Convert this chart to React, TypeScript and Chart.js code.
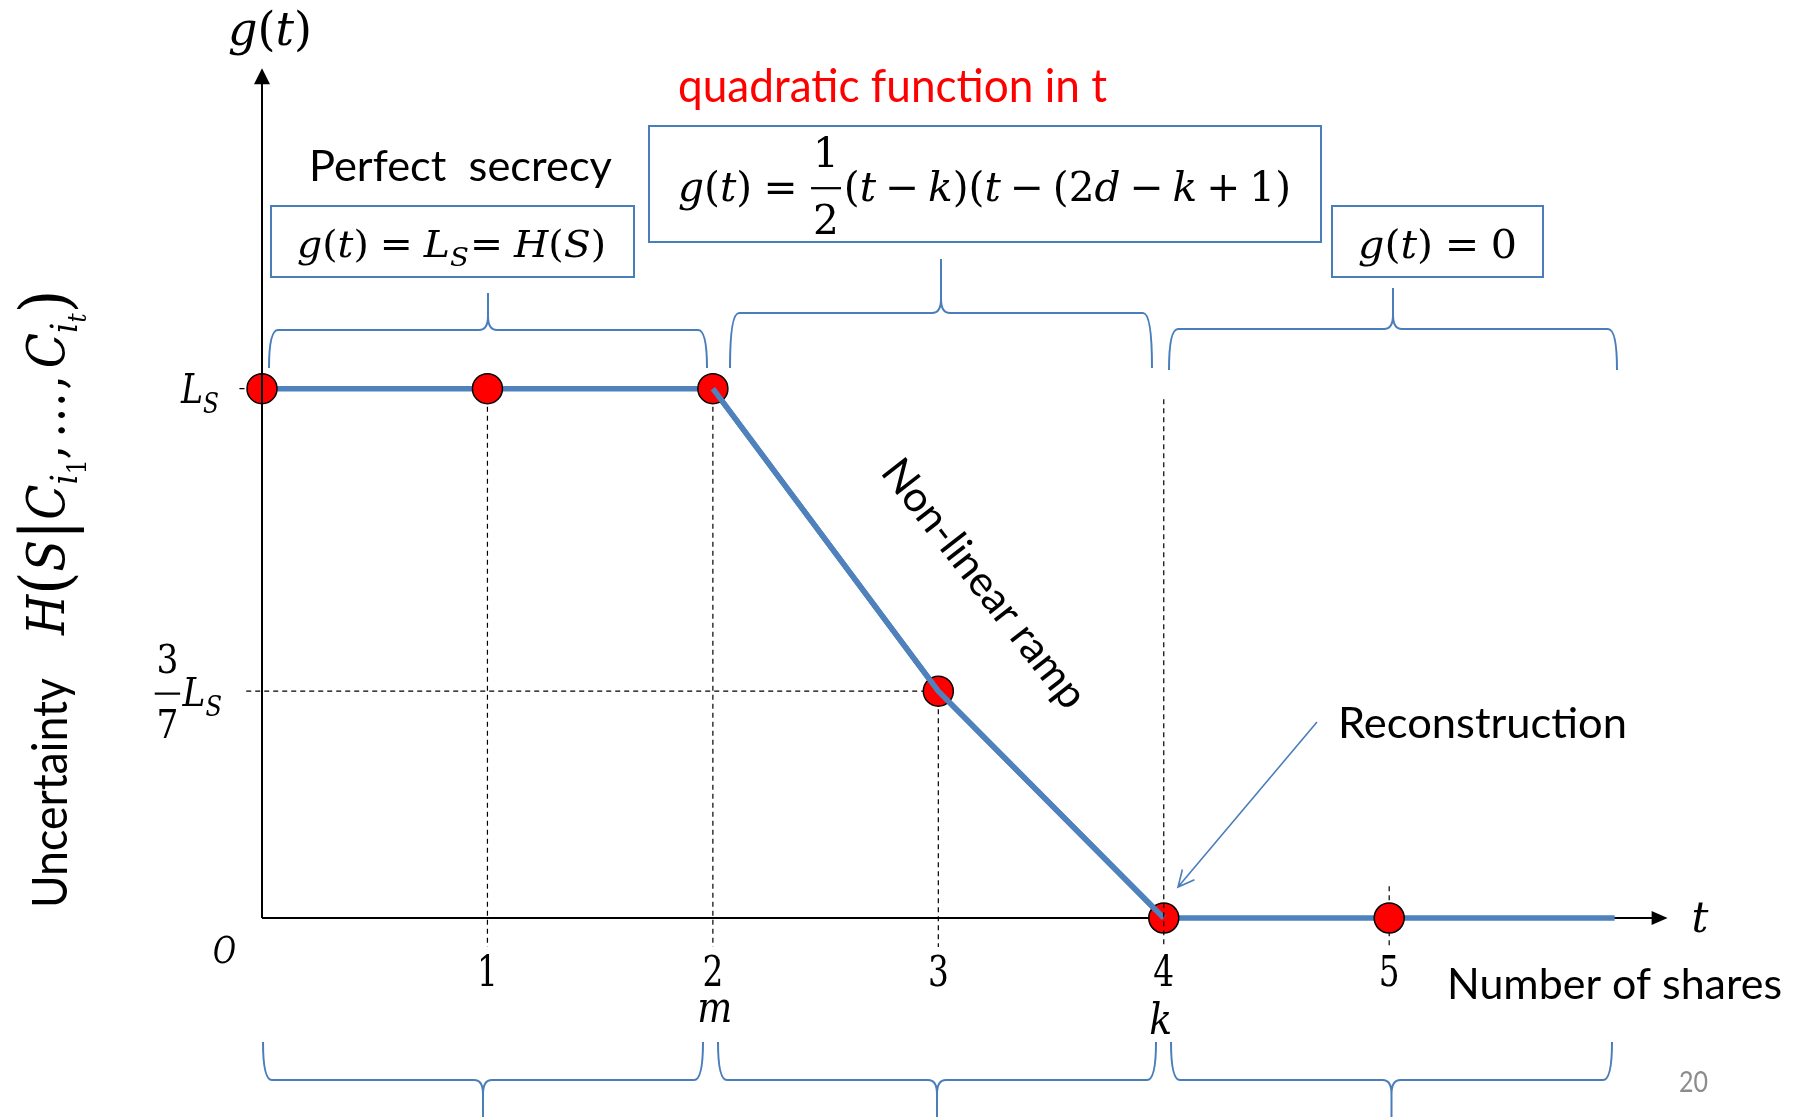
import React, { useEffect, useRef } from 'react';
import { Chart, registerables } from 'chart.js';

Chart.register(...registerables);

// Number of shares t and the remaining uncertainty g(t), in units of L_S
const SHARES = [0, 1, 2, 3, 4, 5, 6];
const UNCERTAINTY = [1, 1, 1, 3 / 7, 0, 0, 0];
const HAS_MARKER = [true, true, true, true, true, true, false];
const RAMP_START = 2;
const RAMP_END = 4;
const TICK_VALUES = [1, 2, 3, 4, 5];
const TICK_LABELS = ['1', '2', '3', '4', '5'];
const M_SHARES = 2;
const K_SHARES = 4;
const LEVEL_FULL = 1;
const LEVEL_RAMP = 3 / 7;

const LINE_BLUE = '#4F81BD';
const FRAME_BLUE = '#4A7EBB';
const SANS = 'Lato, "Noto Sans", sans-serif';
const MATH = '"DejaVu Serif", serif';

type Seg = { t?: string; it?: boolean; s?: number; dy?: number; pl?: number; pr?: number; frac?: [string, string] };

const V = (t: string): Seg => ({ t, it: true });
const N = (t: string): Seg => ({ t });
const OP = (t: string): Seg => ({ t, pl: 0.22, pr: 0.22 });
const REL = (t: string): Seg => ({ t, pl: 0.28, pr: 0.28 });
const SUB = (t: string): Seg => ({ t, it: true, s: 0.7, dy: 0.25 });

const G_OF_T: Seg[] = [V('g'), N('('), V('t'), N(')')];
const FORMULA_SECRECY: Seg[] = [...G_OF_T, REL('='), V('L'), SUB('S'), { t: '=', pl: 0.03, pr: 0.28 }, V('H'), N('('), V('S'), N(')')];
const FORMULA_RAMP: Seg[] = [
  ...G_OF_T, REL('='), { frac: ['1', '2'], pr: 0.02 },
  N('('), V('t'), OP('−'), V('k'), N(')'),
  N('('), V('t'), OP('−'), N('('), N('2'), V('d'), OP('−'), V('k'), OP('+'), N('1'), N(')'),
];
const FORMULA_ZERO: Seg[] = [...G_OF_T, REL('='), N('0')];
const LABEL_LS: Seg[] = [V('L'), SUB('S')];
const LABEL_LS_RAMP: Seg[] = [{ frac: ['3', '7'], pr: 0.02 }, V('L'), SUB('S')];
const Y_TITLE_MATH: Seg[] = [
  V('H'), { t: '(', s: 1.3, dy: 0.08 }, V('S'), { t: '|', s: 1.3, dy: 0.08 },
  V('C'), { t: 'i', it: true, s: 0.7, dy: 0.25 }, { t: '1', s: 0.5, dy: 0.42 },
  N(','), { t: '…', pl: 0.15, pr: 0.05 }, N(','),
  { t: 'C', it: true, pl: 0.15 }, { t: 'i', it: true, s: 0.7, dy: 0.25 }, { t: 't', it: true, s: 0.5, dy: 0.42 },
  { t: ')', s: 1.3, dy: 0.08 },
];

function mathFont(size: number, it: boolean) {
  return `${it ? 'italic ' : ''}${size}px ${MATH}`;
}

function segWidth(ctx: CanvasRenderingContext2D, seg: Seg, base: number) {
  if (seg.frac) {
    ctx.font = mathFont(base, false);
    return Math.max(ctx.measureText(seg.frac[0]).width, ctx.measureText(seg.frac[1]).width) + 0.2 * base;
  }
  ctx.font = mathFont(base * (seg.s ?? 1), !!seg.it);
  return ctx.measureText(seg.t || '').width;
}

function mathWidth(ctx: CanvasRenderingContext2D, segs: Seg[], base: number) {
  return segs.reduce((a, s) => a + segWidth(ctx, s, base) + ((s.pl ?? 0) + (s.pr ?? 0)) * base, 0);
}

// Lays out a small formula left to right; when a width is given the whole run is scaled to it.
function drawMath(ctx: CanvasRenderingContext2D, segs: Seg[], x: number, y: number, base: number, width?: number) {
  const ws = segs.map((s) => segWidth(ctx, s, base));
  const total = mathWidth(ctx, segs, base);
  const sx = width ? width / total : 1;
  ctx.save();
  ctx.translate(x, y);
  ctx.scale(sx, 1);
  ctx.textAlign = 'left';
  ctx.textBaseline = 'alphabetic';
  ctx.fillStyle = '#000';
  let cx = 0;
  segs.forEach((s, i) => {
    cx += (s.pl ?? 0) * base;
    if (s.frac) {
      ctx.font = mathFont(base, false);
      const w = ws[i];
      const mid = cx + w / 2;
      ctx.textAlign = 'center';
      ctx.fillText(s.frac[0], mid, -0.82 * base);
      ctx.fillText(s.frac[1], mid, 0.8 * base);
      ctx.textAlign = 'left';
      ctx.fillRect(cx + 0.05 * base, -0.34 * base, w - 0.1 * base, 0.055 * base);
    } else {
      ctx.font = mathFont(base * (s.s ?? 1), !!s.it);
      ctx.fillText(s.t || '', cx, (s.dy ?? 0) * base);
    }
    cx += ws[i] + (s.pr ?? 0) * base;
  });
  ctx.restore();
}

function drawMathCentered(ctx: CanvasRenderingContext2D, segs: Seg[], cx: number, y: number, base: number, squeeze = 1) {
  const w = mathWidth(ctx, segs, base) * squeeze;
  drawMath(ctx, segs, cx - w / 2, y, base, w);
}

function fitText(ctx: CanvasRenderingContext2D, text: string, x: number, y: number, width: number, size: number, color = '#000') {
  ctx.save();
  ctx.font = `${size}px ${SANS}`;
  ctx.fillStyle = color;
  ctx.textAlign = 'left';
  ctx.textBaseline = 'alphabetic';
  const w = ctx.measureText(text).width;
  ctx.translate(x, y);
  ctx.scale(width / w, 1);
  ctx.fillText(text, 0, 0);
  ctx.restore();
}

// Curly brace: ends at yEnd, bar at yBar, pointing towards yTip from the middle
function drawBrace(ctx: CanvasRenderingContext2D, x0: number, x1: number, yEnd: number, yBar: number, yTip: number) {
  const dir = Math.sign(yEnd - yBar);
  const xm = (x0 + x1) / 2;
  const r = 9;
  const rt = 9;
  const vt = 14;
  ctx.beginPath();
  ctx.moveTo(x0, yEnd);
  ctx.quadraticCurveTo(x0, yBar, x0 + r, yBar);
  ctx.lineTo(xm - rt, yBar);
  ctx.quadraticCurveTo(xm, yBar, xm, yBar - dir * vt);
  ctx.lineTo(xm, yTip);
  ctx.moveTo(x1, yEnd);
  ctx.quadraticCurveTo(x1, yBar, x1 - r, yBar);
  ctx.lineTo(xm + rt, yBar);
  ctx.quadraticCurveTo(xm, yBar, xm, yBar - dir * vt);
  ctx.stroke();
}

function dashed(ctx: CanvasRenderingContext2D, x0: number, y0: number, x1: number, y1: number) {
  ctx.save();
  ctx.strokeStyle = '#000';
  ctx.lineWidth = 1.2;
  ctx.setLineDash([5, 4]);
  ctx.beginPath();
  ctx.moveTo(x0, y0);
  ctx.lineTo(x1, y1);
  ctx.stroke();
  ctx.restore();
}

const AXIS_X_END = 6.235;
const AXIS_Y_END = 1.605;
const GUIDE_BOTTOM = -0.055;
const GUIDE_TOPS = [1, 1, 3 / 7, 0.98, 0.06];

const TOP_BRACES = [
  [269, 707, 368, 330, 293],
  [730, 1152, 368, 313, 259],
  [1169, 1617, 370, 329, 288],
];
const BOTTOM_BRACES = [
  [263, 703, 1042, 1080, 1140],
  [718, 1156, 1042, 1080, 1140],
  [1171, 1612, 1042, 1080, 1140],
];

const slideAnnotations = {
  id: 'slideAnnotations',
  beforeDatasetsDraw(chart: any) {
    const { ctx } = chart;
    const xs = chart.scales.x;
    const ys = chart.scales.y;
    const px = (v: number) => xs.getPixelForValue(v);
    const py = (v: number) => ys.getPixelForValue(v);
    ctx.save();
    // horizontal axis with arrow
    const tipX = px(AXIS_X_END);
    ctx.strokeStyle = '#000';
    ctx.fillStyle = '#000';
    ctx.lineWidth = 2;
    ctx.beginPath();
    ctx.moveTo(px(0), py(0));
    ctx.lineTo(tipX - 12, py(0));
    ctx.stroke();
    ctx.beginPath();
    ctx.moveTo(tipX, py(0));
    ctx.lineTo(tipX - 16, py(0) - 7);
    ctx.lineTo(tipX - 16, py(0) + 7);
    ctx.closePath();
    ctx.fill();

    // dashed guides from the markers
    TICK_VALUES.forEach((v, i) => {
      if (v === K_SHARES) return;
      dashed(ctx, px(v), py(GUIDE_TOPS[i]), px(v), py(GUIDE_BOTTOM));
    });
    dashed(ctx, px(-0.1), py(LEVEL_FULL), px(0.13), py(LEVEL_FULL));
    dashed(ctx, px(-0.07), py(LEVEL_RAMP), px(3), py(LEVEL_RAMP));
    ctx.restore();
  },
  afterDatasetsDraw(chart: any) {
    const { ctx } = chart;
    const xs = chart.scales.x;
    const ys = chart.scales.y;
    const px = (v: number) => xs.getPixelForValue(v);
    const py = (v: number) => ys.getPixelForValue(v);
    ctx.save();

    // vertical axis with arrow
    const tipY = py(AXIS_Y_END);
    ctx.strokeStyle = '#000';
    ctx.fillStyle = '#000';
    ctx.lineWidth = 2;
    ctx.beginPath();
    ctx.moveTo(px(0), py(0));
    ctx.lineTo(px(0), tipY + 12);
    ctx.stroke();
    ctx.beginPath();
    ctx.moveTo(px(0), tipY);
    ctx.lineTo(px(0) - 8, tipY + 16);
    ctx.lineTo(px(0) + 8, tipY + 16);
    ctx.closePath();
    ctx.fill();

    // guide through the reconstruction point
    const ki = TICK_VALUES.indexOf(K_SHARES);
    dashed(ctx, px(K_SHARES), py(GUIDE_TOPS[ki]), px(K_SHARES), py(GUIDE_BOTTOM));

    // axis labels
    drawMath(ctx, G_OF_T, px(0) - 34, 45, 46, 84);
    drawMath(ctx, [V('t')], px(AXIS_X_END) + 24, py(0) + 14, 42);
    drawMath(ctx, [V('O')], px(0) - 49, py(0) + 45, 38, 23);
    TICK_VALUES.forEach((v, i) => drawMathCentered(ctx, [N(TICK_LABELS[i])], px(v), py(0) + 68, 42, 0.78));
    drawMathCentered(ctx, [V('m')], px(M_SHARES) + 2, py(0) + 104, 42, 0.88);
    drawMathCentered(ctx, [V('k')], px(K_SHARES) - 3, py(0) + 116, 42, 0.9);
    drawMath(ctx, LABEL_LS, px(0) - 81, py(LEVEL_FULL) + 14, 41, 38);
    drawMath(ctx, LABEL_LS_RAMP, px(0) - 109, py(LEVEL_RAMP) + 15, 40, 69);

    // rotated vertical title
    ctx.save();
    ctx.translate(67, 908);
    ctx.rotate(-Math.PI / 2);
    fitText(ctx, 'Uncertainty', 0, 0, 230, 48);
    ctx.restore();
    ctx.save();
    ctx.translate(64, 635);
    ctx.rotate(-Math.PI / 2);
    drawMath(ctx, Y_TITLE_MATH, 0, 0, 52, 345);
    ctx.restore();

    fitText(ctx, 'Number of shares', 1447, 999, 335, 42);

    // regime boxes
    ctx.strokeStyle = FRAME_BLUE;
    ctx.lineWidth = 2;
    ctx.strokeRect(271, 206, 363, 71);
    ctx.strokeRect(649, 126, 672, 116);
    ctx.strokeRect(1332, 206, 211, 71);
    drawMath(ctx, FORMULA_SECRECY, 297, 257, 37, 309);
    drawMath(ctx, FORMULA_RAMP, 678, 201, 41, 613);
    drawMath(ctx, FORMULA_ZERO, 1358, 258, 40, 159);
    fitText(ctx, 'Perfect  secrecy', 309, 181, 303, 42);
    fitText(ctx, 'quadratic function in t', 678, 102, 429, 46, '#FF0000');

    // braces
    ctx.strokeStyle = FRAME_BLUE;
    ctx.lineWidth = 2;
    TOP_BRACES.forEach((b) => drawBrace(ctx, b[0], b[1], b[2], b[3], b[4]));
    BOTTOM_BRACES.forEach((b) => drawBrace(ctx, b[0], b[1], b[2], b[3], b[4]));

    // ramp caption
    ctx.save();
    ctx.translate(985, 583);
    ctx.rotate((52 * Math.PI) / 180);
    fitText(ctx, 'Non-linear ramp', -152, 15, 304, 42);
    ctx.restore();

    // reconstruction callout
    fitText(ctx, 'Reconstruction', 1338, 738, 289, 42);
    const ax0 = 1317, ay0 = 722, ax1 = 1178, ay1 = 887;
    const ang = Math.atan2(ay1 - ay0, ax1 - ax0);
    ctx.strokeStyle = FRAME_BLUE;
    ctx.lineWidth = 1.6;
    ctx.beginPath();
    ctx.moveTo(ax0, ay0);
    ctx.lineTo(ax1, ay1);
    const wing = 18;
    const spread = (26 * Math.PI) / 180;
    ctx.moveTo(ax1 - wing * Math.cos(ang - spread), ay1 - wing * Math.sin(ang - spread));
    ctx.lineTo(ax1, ay1);
    ctx.lineTo(ax1 - wing * Math.cos(ang + spread), ay1 - wing * Math.sin(ang + spread));
    ctx.stroke();

    fitText(ctx, '20', 1679, 1092, 29, 29, '#8C8C8C');
    ctx.restore();
  },
};

export default function App() {
  const ref = useRef<HTMLCanvasElement>(null);

  useEffect(() => {
    const canvas = ref.current;
    if (!canvas) return;
    const points = SHARES.map((x, i) => ({ x, y: UNCERTAINTY[i] }));
    const ramp = points.filter((p) => p.x >= RAMP_START && p.x <= RAMP_END);
    const chart = new Chart(canvas, {
      type: 'line',
      data: {
        datasets: [
          {
            label: 'g(t)',
            data: points,
            order: 1,
            borderColor: LINE_BLUE,
            borderWidth: 5.5,
            pointRadius: (c: any) => (HAS_MARKER[c.dataIndex] ? 15 : 0),
            pointBackgroundColor: '#FF0000',
            pointBorderColor: '#000',
            pointBorderWidth: 1.5,
            tension: 0,
            clip: false,
          },
          {
            label: 'ramp',
            data: ramp,
            order: 0,
            borderColor: LINE_BLUE,
            borderWidth: 5.5,
            pointRadius: 0,
            tension: 0,
            clip: false,
          },
        ],
      },
      options: {
        responsive: false,
        maintainAspectRatio: false,
        animation: false,
        devicePixelRatio: 1,
        events: [],
        layout: { padding: { left: 262, right: 132, top: 71, bottom: 199 } },
        scales: {
          x: { type: 'linear', min: 0, max: 6.25, display: false },
          y: { type: 'linear', min: 0, max: 1.6, display: false },
        },
        plugins: { legend: { display: false }, tooltip: { enabled: false } },
      } as any,
      plugins: [slideAnnotations],
    });
    if ((document as any).fonts?.ready) {
      (document as any).fonts.ready.then(() => chart.draw());
    }
    return () => chart.destroy();
  }, []);

  return (
    <div style={{ position: 'fixed', left: 0, top: 0, width: 1803, height: 1117, background: '#fff' }}>
      <canvas ref={ref} width={1803} height={1117} style={{ display: 'block' }} />
    </div>
  );
}
